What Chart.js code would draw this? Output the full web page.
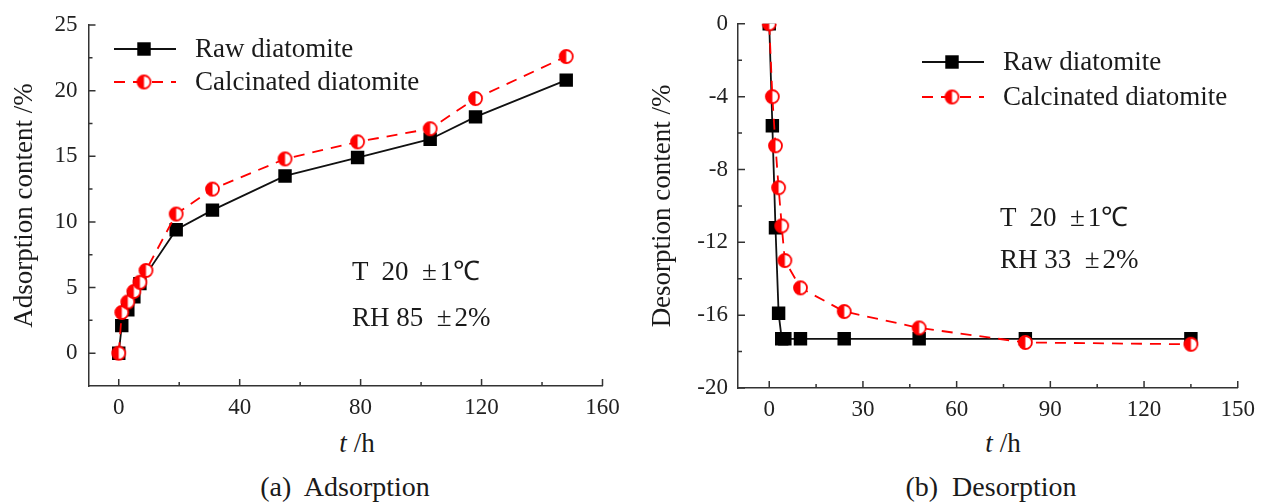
<!DOCTYPE html>
<html>
<head>
<meta charset="utf-8">
<script src="https://cdn.jsdelivr.net/npm/chart.js@4.4.0/dist/chart.umd.min.js"></script>
<style>
  body { margin: 0; background: #fff; }
  #wrap { position: relative; width: 1263px; height: 502px; font-family: "Liberation Serif", "Times New Roman", serif; color: #1a1a1a; }
  .box { position: absolute; }
  .txt { position: absolute; font-size: 27px; white-space: pre; line-height: 27px; }
  .cap { font-size: 28px; }
  .ctr { text-align: center; }
  .pm { padding-right: 3px; }
</style>
</head>
<body>
<div id="wrap">
  <div class="box" style="left:0;top:0;width:630px;height:426px"><canvas id="adsChart"></canvas></div>
  <div class="box" style="left:640px;top:0;width:623px;height:428px"><canvas id="desChart"></canvas></div>

  <div class="txt" style="left:352px;top:258px">T  20  <span class="pm">±</span>1℃</div>
  <div class="txt" style="left:352px;top:304px">RH 85  <span class="pm">±</span>2%</div>
  <div class="txt" style="left:1000px;top:204px">T  20  <span class="pm">±</span>1℃</div>
  <div class="txt" style="left:1000px;top:246px">RH 33  <span class="pm">±</span>2%</div>

  <div class="txt ctr" style="left:295px;top:430px;width:124px"><i>t</i> /h</div>
  <div class="txt ctr" style="left:941px;top:430px;width:124px"><i>t</i> /h</div>
  <div class="txt ctr cap" style="left:225px;top:473px;width:240px">(a)  Adsorption</div>
  <div class="txt ctr cap" style="left:871px;top:473px;width:240px">(b)  Desorption</div>
</div>

<script>
// adsorption (a)
const adsRawT = [0, 1, 3, 5, 7, 19, 31, 55, 79, 103, 118, 148];
const adsRawV = [0, 2.1, 3.3, 4.3, 5.3, 9.4, 10.9, 13.5, 14.9, 16.3, 18.0, 20.8];
const adsCalT = [0, 1, 3, 5, 7, 9, 19, 31, 55, 79, 103, 118, 148];
const adsCalV = [0, 3.1, 3.9, 4.7, 5.4, 6.3, 10.6, 12.5, 14.8, 16.1, 17.1, 19.4, 22.6];

// desorption (b)
const desRawT = [0, 1, 2, 3, 4, 5, 10, 24, 48, 82, 135];
const desRawV = [0, -5.6, -11.2, -15.9, -17.3, -17.3, -17.3, -17.3, -17.3, -17.3, -17.3];
const desCalT = [0, 1, 2, 3, 4, 5, 10, 24, 48, 82, 135];
const desCalV = [0, -4.0, -6.7, -9.0, -11.1, -13.0, -14.5, -15.8, -16.7, -17.5, -17.6];

const adsXTicks = [0, 40, 80, 120, 160];
const adsYTicks = [0, 5, 10, 15, 20, 25];
const desXTicks = [0, 30, 60, 90, 120, 150];
const desYTicks = [0, -4, -8, -12, -16, -20];

const seriesNames = ['Raw diatomite', 'Calcinated diatomite'];

const RED = '#ff0000';
const INK = '#222';
const SERIF = '"Liberation Serif", "Times New Roman", serif';

function halfCircle(r) {
  const c = document.createElement('canvas');
  const s = Math.ceil(2 * r + 4);
  c.width = s; c.height = s;
  const g = c.getContext('2d');
  const m = s / 2;
  g.beginPath(); g.arc(m, m, r, 0, Math.PI * 2); g.fillStyle = '#fff'; g.fill();
  g.beginPath(); g.moveTo(m, m - r); g.arc(m, m, r, -Math.PI / 2, Math.PI / 2, true); g.closePath();
  g.fillStyle = RED; g.fill();
  g.beginPath(); g.arc(m, m, r, 0, Math.PI * 2); g.lineWidth = 1.8; g.strokeStyle = RED; g.stroke();
  return c;
}
const calMarker = halfCircle(6.5);

function pts(xs, ys) { return xs.map((x, i) => ({ x: x, y: ys[i] })); }

function midpoints(arr) {
  const out = [];
  for (let i = 0; i < arr.length - 1; i++) out.push((arr[i] + arr[i + 1]) / 2);
  return out;
}

// tick marks pointing into the plot, majors and minors
const inwardTicks = {
  id: 'inwardTicks',
  afterDraw(chart, args, opts) {
    const { ctx, chartArea: a, scales: { x, y } } = chart;
    ctx.save();
    ctx.strokeStyle = '#333';
    ctx.lineWidth = 1.5;
    ctx.beginPath();
    opts.xMajor.forEach(v => { const p = x.getPixelForValue(v); ctx.moveTo(p, a.bottom); ctx.lineTo(p, a.bottom - 7); });
    midpoints(opts.xMajor).forEach(v => { const p = x.getPixelForValue(v); ctx.moveTo(p, a.bottom); ctx.lineTo(p, a.bottom - 4); });
    opts.yMajor.forEach(v => { const p = y.getPixelForValue(v); ctx.moveTo(a.left, p); ctx.lineTo(a.left + 7, p); });
    midpoints(opts.yMajor).forEach(v => { const p = y.getPixelForValue(v); ctx.moveTo(a.left, p); ctx.lineTo(a.left + 4, p); });
    ctx.stroke();
    ctx.restore();
  }
};

// legend: line sample + marker + name
const lineLegend = {
  id: 'lineLegend',
  afterDraw(chart, args, opts) {
    const ctx = chart.ctx;
    chart.data.datasets.forEach((ds, i) => {
      const y = opts.y + i * opts.gap;
      const x0 = opts.x, x1 = opts.x + 62, xm = opts.x + 30;
      ctx.save();
      ctx.strokeStyle = ds.borderColor;
      ctx.lineWidth = ds.borderWidth;
      ctx.setLineDash(ds.borderDash || []);
      ctx.beginPath(); ctx.moveTo(x0, y); ctx.lineTo(x1, y); ctx.stroke();
      ctx.setLineDash([]);
      if (ds.pointStyle === 'rect') {
        const s = ds.pointRadius * Math.SQRT1_2;
        ctx.fillStyle = ds.pointBackgroundColor;
        ctx.fillRect(xm - s, y - s, 2 * s, 2 * s);
      } else {
        const img = ds.pointStyle;
        ctx.drawImage(img, xm - img.width / 2, y - img.height / 2);
      }
      ctx.fillStyle = '#1a1a1a';
      ctx.font = '27px ' + SERIF;
      ctx.textBaseline = 'middle';
      ctx.fillText(seriesNames[i], x1 + 19, y + 1);
      ctx.restore();
    });
  }
};

function makeDatasets(rT, rV, cT, cV) {
  return [
    {
      label: seriesNames[0],
      data: pts(rT, rV),
      borderColor: '#111',
      borderWidth: 1.8,
      pointStyle: 'rect',
      pointRadius: 9.5,
      pointBackgroundColor: '#000',
      pointBorderWidth: 0,
      tension: 0,
      order: 1
    },
    {
      label: seriesNames[1],
      data: pts(cT, cV),
      borderColor: RED,
      borderWidth: 1.8,
      borderDash: [11, 8],
      pointStyle: calMarker,
      pointRadius: 7,
      tension: 0,
      order: 0
    }
  ];
}

function makeChart(id, cfg) {
  const ctx = document.getElementById(id).getContext('2d');
  return new Chart(ctx, {
    type: 'line',
    data: { datasets: cfg.datasets },
    options: {
      responsive: true,
      maintainAspectRatio: false,
      animation: false,
      events: [],
      layout: { padding: { left: 0, top: cfg.padTop, right: cfg.padRight, bottom: 0 } },
      plugins: {
        legend: { display: false },
        tooltip: { enabled: false },
        inwardTicks: { xMajor: cfg.xTicks, yMajor: cfg.yTicks },
        lineLegend: cfg.legend
      },
      scales: {
        x: {
          type: 'linear',
          min: cfg.xMin, max: cfg.xMax,
          grid: { display: false, drawTicks: false },
          border: { color: '#333', width: 1.5 },
          afterBuildTicks: s => { s.ticks = cfg.xTicks.map(v => ({ value: v })); },
          afterFit: s => { s.height = 40; },
          ticks: { color: INK, padding: 8, maxRotation: 0, font: { family: SERIF, size: 23 } }
        },
        y: {
          type: 'linear',
          min: cfg.yMin, max: cfg.yMax,
          grid: { display: false, drawTicks: false },
          border: { color: '#333', width: 1.5 },
          afterBuildTicks: s => { s.ticks = cfg.yTicks.map(v => ({ value: v })); },
          afterFit: s => { s.width = cfg.yWidth; },
          ticks: { color: INK, padding: cfg.yPad, font: { family: SERIF, size: 23 } },
          title: {
            display: true,
            text: cfg.yTitle,
            color: '#1a1a1a',
            padding: { top: cfg.titlePad, bottom: 0 },
            font: { family: SERIF, size: 27 }
          }
        }
      }
    },
    plugins: [inwardTicks, lineLegend]
  });
}

makeChart('adsChart', {
  datasets: makeDatasets(adsRawT, adsRawV, adsCalT, adsCalV),
  xMin: -10, xMax: 160, yMin: -2.5, yMax: 25,
  xTicks: adsXTicks, yTicks: adsYTicks,
  padTop: 25, padRight: 27.5, yWidth: 88.5, yPad: 11, titlePad: 9,
  yTitle: 'Adsorption content /%',
  legend: { x: 114, y: 49, gap: 33 }
});

makeChart('desChart', {
  datasets: makeDatasets(desRawT, desRawV, desCalT, desCalV),
  xMin: -10, xMax: 150, yMin: -20, yMax: 0,
  xTicks: desXTicks, yTicks: desYTicks,
  padTop: 20, padRight: 21, yWidth: 98, yPad: 10, titlePad: 7,
  yTitle: 'Desorption content /%',
  legend: { x: 282, y: 62, gap: 35 }
});
</script>
</body>
</html>
